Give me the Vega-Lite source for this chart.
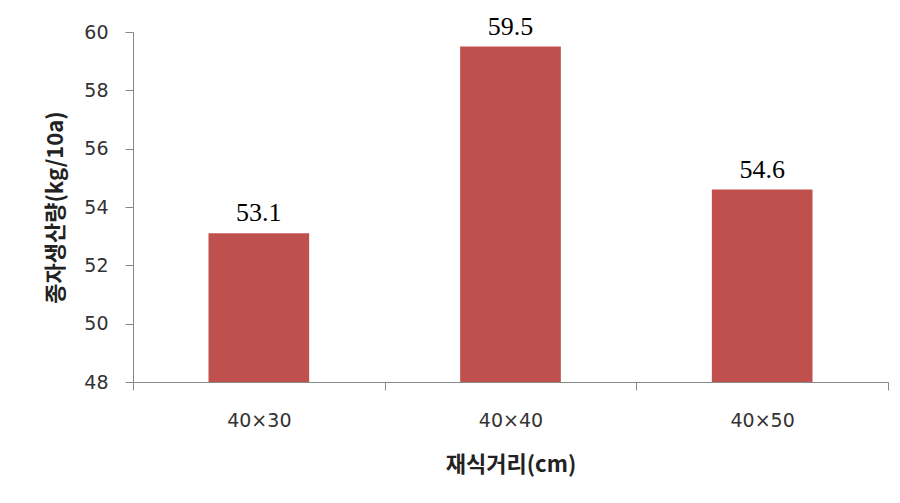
{
  "$schema": "https://vega.github.io/schema/vega-lite/v6.json",
  "autosize": {"type": "none"},
  "padding": {"left": 133, "top": 32, "right": 12, "bottom": 121},
  "width": 755,
  "height": 350,
  "background": "white",
  "config": {"view": {"stroke": null}},
  "data": {"values": [
    {"spacing": "40×30", "yield": 53.1},
    {"spacing": "40×40", "yield": 59.5},
    {"spacing": "40×50", "yield": 54.6}
  ]},
  "encoding": {
    "x": {
      "field": "spacing", "type": "nominal", "sort": null,
      "scale": {"paddingInner": 0, "paddingOuter": 0},
      "axis": {
        "title": "재식거리(cm)", "labelAngle": 0,
        "tickBand": "extent", "tickSize": 8, "labelPadding": 21,
        "domainColor": "#888888", "tickColor": "#888888",
        "labelFont": "DejaVu Sans", "labelFontSize": 19, "labelColor": "#333333",
        "titleFont": "Noto Sans CJK KR", "titleFontSize": 22, "titleFontWeight": "bold",
        "titleColor": "#222222", "titlePadding": 24
      }
    },
    "y": {
      "field": "yield", "type": "quantitative",
      "scale": {"domain": [48, 60], "zero": false, "nice": false},
      "axis": {
        "title": "종자생산량(kg/10a)", "values": [48, 50, 52, 54, 56, 58, 60],
        "grid": false, "tickSize": 8, "labelPadding": 17,
        "domainColor": "#888888", "tickColor": "#888888",
        "labelFont": "DejaVu Sans", "labelFontSize": 19, "labelColor": "#333333",
        "titleFont": "Noto Sans CJK KR", "titleFontSize": 22, "titleFontWeight": "bold",
        "titleColor": "#222222", "titlePadding": 16
      }
    }
  },
  "layer": [
    {"mark": {"type": "bar", "color": "#C0504D", "width": {"band": 0.4}, "clip": true}},
    {"mark": {"type": "text", "dy": -7, "baseline": "bottom", "font": "Liberation Serif", "fontSize": 26, "color": "#000000"},
     "encoding": {"text": {"field": "yield", "type": "quantitative", "format": ".1f"}}}
  ]
}
